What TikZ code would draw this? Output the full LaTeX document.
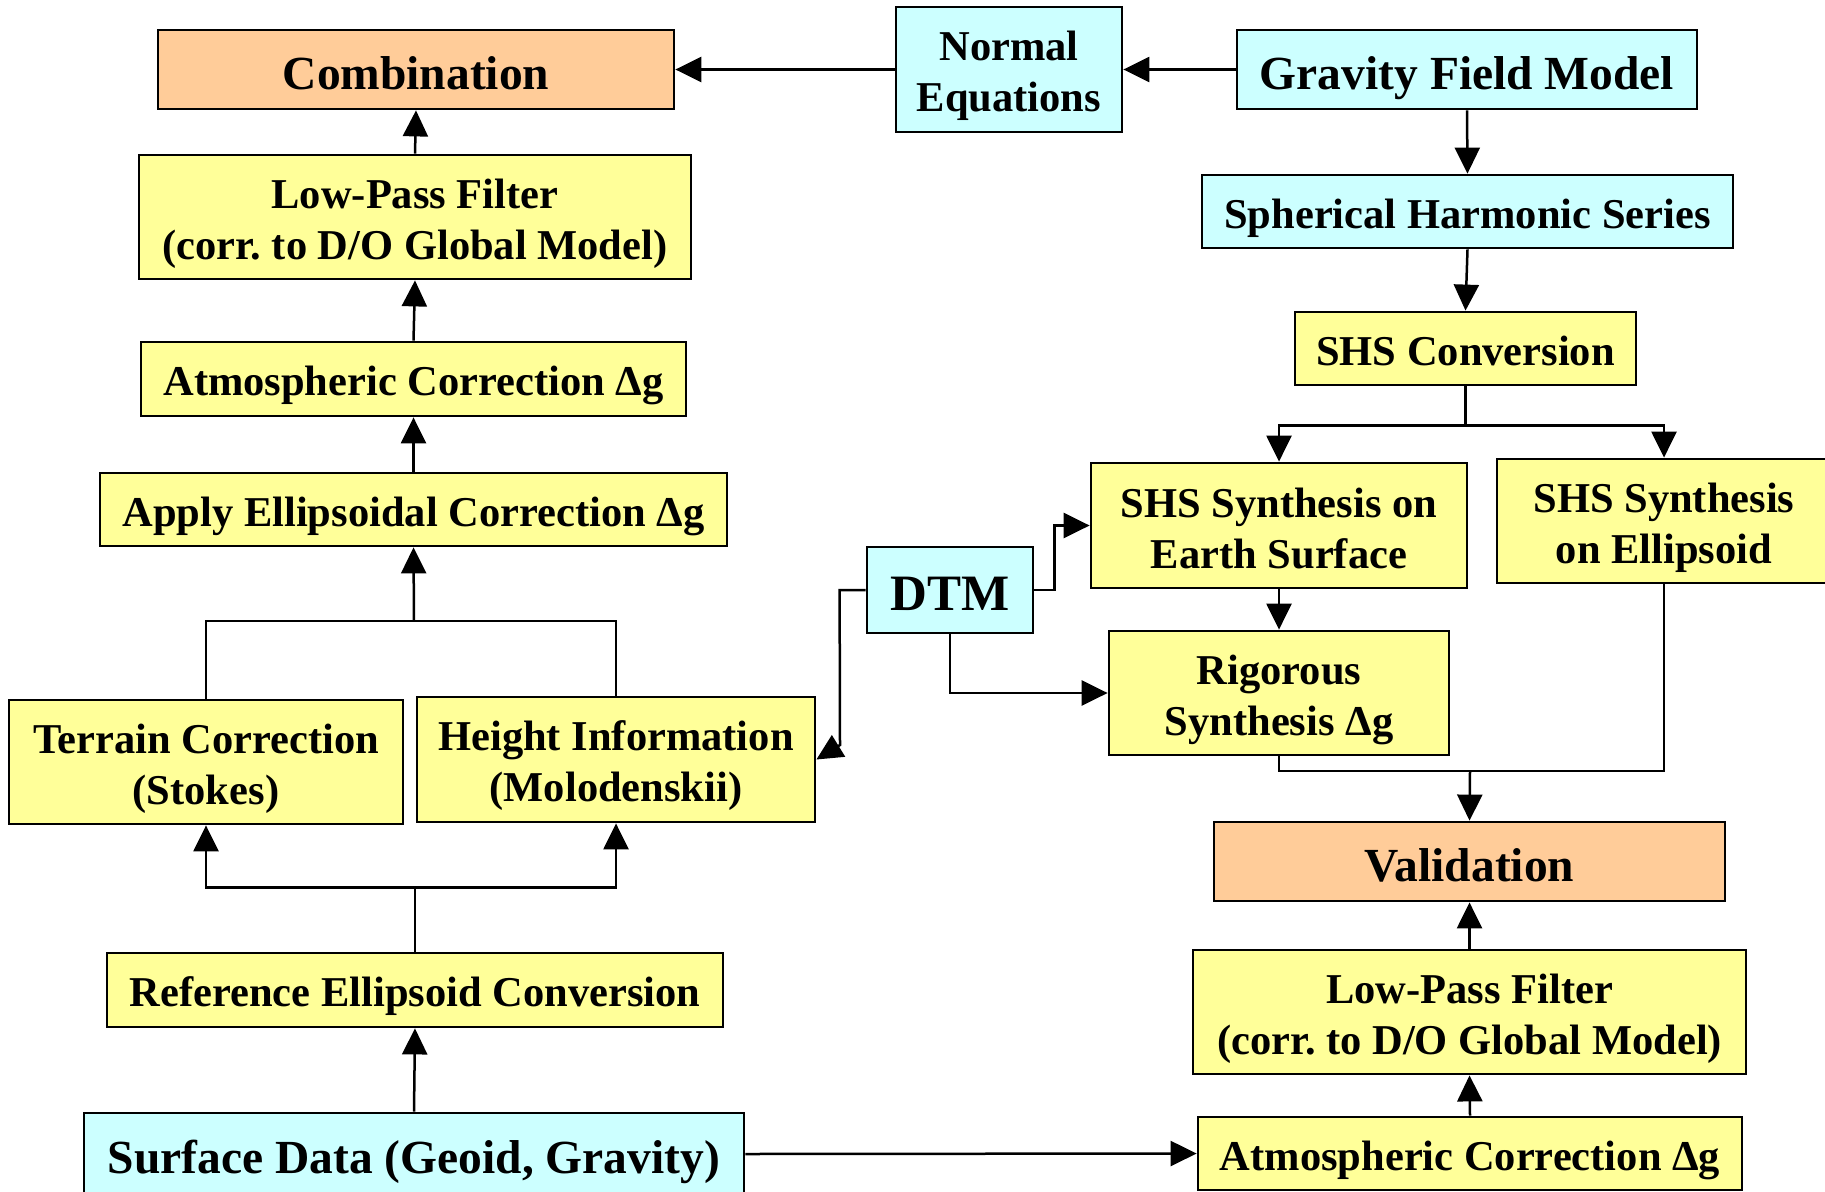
\documentclass[tikz,border=0pt]{standalone}
\usepackage{fontspec}
\setmainfont{Liberation Serif}
\usetikzlibrary{arrows.meta,calc}
\definecolor{cy}{HTML}{CCFFFF}
\definecolor{ye}{HTML}{FFFF99}
\definecolor{pe}{HTML}{FFCC99}
\frenchspacing
\newcommand\twol[2]{\rule{0pt}{43pt}#1\\#2\rule[-9pt]{0pt}{0pt}}
\tikzset{
  box/.style={draw=black,line width=2.8pt,inner sep=0pt,align=center,
    font={\bfseries\fontsize{42.5}{51}\selectfont\lineskiplimit=-100pt\frenchspacing},
    execute at begin node={\rule[-9pt]{0pt}{52pt}},
    execute at end node={\rule[-9pt]{0pt}{52pt}}},
  cbox/.style={box,fill=cy},
  ybox/.style={box,fill=ye},
  pbox/.style={box,fill=pe},
  big/.style={font={\bfseries\fontsize{47.5}{56}\selectfont\lineskiplimit=-100pt},
    execute at begin node={\rule[-10pt]{0pt}{60pt}},
    execute at end node={\rule[-10pt]{0pt}{60pt}}},
  huge/.style={big,font={\bfseries\fontsize{51}{60}\selectfont}},
  ln/.style={line width=2.5pt},
  arr/.style={ln,-{Triangle[length=26pt,width=25pt]}},
}
\begin{document}
\begin{tikzpicture}[x=1pt,y=-1pt]
\useasboundingbox (0,0) rectangle (1825,1191);
% left column
\node[pbox,big,minimum width=516,minimum height=79] (comb) at (416,69.5) {Combination};
\node[ybox,minimum width=552,minimum height=124] (lpl) at (415,217) {\twol{Low-Pass Filter}{(corr. to D/O Global Model)}};
\node[ybox,minimum width=545,minimum height=74] (atml) at (413.5,379) {Atmospheric Correction Δg};
\node[ybox,minimum width=627,minimum height=73] (app) at (413.5,509.5) {Apply Ellipsoidal Correction Δg};
\node[ybox,minimum width=394,minimum height=124] (terr) at (206,762) {\twol{Terrain Correction}{(Stokes)}};
\node[ybox,minimum width=398,minimum height=125] (hgt) at (616,759.5) {\twol{Height Information}{(Molodenskii)}};
\node[ybox,minimum width=616,minimum height=74] (ref) at (415,990) {Reference Ellipsoid Conversion};
\node[cbox,big,minimum width=660,minimum height=82] (surf) at (414,1154) {Surface Data (Geoid, Gravity)};
% top middle / right
\node[cbox,minimum width=226,minimum height=125] (ne) at (1009,69.5) {\twol{Normal}{Equations}};
\node[cbox,big,minimum width=460,minimum height=79] (gfm) at (1467,69.5) {Gravity Field Model};
\node[cbox,minimum width=531,minimum height=73] (shs) at (1467.5,211.5) {Spherical Harmonic Series};
\node[ybox,minimum width=341,minimum height=73] (conv) at (1465.5,348.5) {SHS Conversion};
\node[ybox,minimum width=376,minimum height=125] (earth) at (1279,525.5) {\twol{SHS Synthesis on}{Earth Surface}};
\node[ybox,minimum width=334,minimum height=124] (ell) at (1664,521) {\twol{SHS Synthesis}{on Ellipsoid}};
\node[cbox,huge,minimum width=166,minimum height=86] (dtm) at (950,590) {DTM};
\node[ybox,minimum width=340,minimum height=124] (rig) at (1279,693) {\twol{Rigorous}{Synthesis Δg}};
\node[pbox,big,minimum width=511,minimum height=79] (val) at (1469.5,861.5) {Validation};
\node[ybox,minimum width=553,minimum height=124] (lpr) at (1469.5,1012) {\twol{Low-Pass Filter}{(corr. to D/O Global Model)}};
\node[ybox,minimum width=544,minimum height=73] (atmr) at (1470,1153.5) {Atmospheric Correction Δg};
% connectors
\draw[arr] (ne.west) -- (comb.east);
\draw[arr] (gfm.west) -- (ne.east);
\draw[arr] (gfm.south) -- (shs.north);
\draw[arr] (shs.south) -- (conv.north);
\draw[arr] (conv.south) -- ++(0,39) -| (earth.north);
\draw[arr] (conv.south) -- ++(0,39) -| (ell.north);
\draw[arr] (earth.south) -- (rig.north);
\coordinate (mv) at (1470,771);
\draw[ln] (rig.south) |- (mv);
\draw[ln] (ell.south) |- (mv);
\draw[arr] (mv) -- (val.north);
\draw[arr] (lpr.north) -- (val.south);
\draw[arr] (atmr.north) -- (lpr.south);
\draw[arr] (surf.east) -- (atmr.west);
\draw[arr] (surf.north) -- (ref.south);
\draw[arr] (ref.north) -- ++(0,-64) -| (terr.south);
\draw[arr] (ref.north) -- ++(0,-64) -| (hgt.south);
\coordinate (ml) at (414,621);
\draw[ln] (terr.north) |- (ml);
\draw[ln] (hgt.north) |- (ml);
\draw[arr] (ml) -- (app.south);
\draw[arr] (app.north) -- (atml.south);
\draw[arr] (atml.north) -- (lpl.south);
\draw[arr] (lpl.north) -- (comb.south);
\coordinate (dl) at (840,745);
\draw[arr] (dtm.west) -- ++(-26,0) -- (dl) -- (hgt.east);
\draw[arr] (dtm.east) -- ++(20,0) |- (earth.west);
\draw[arr] (dtm.south) |- (rig.west);
\end{tikzpicture}
\end{document}
